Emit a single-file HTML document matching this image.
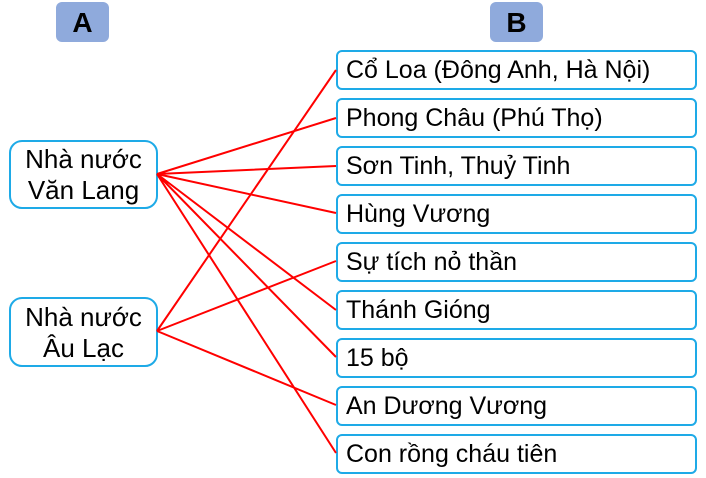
<!DOCTYPE html><html><head><style>
body{margin:0;width:706px;height:478px;background:#fff;position:relative;overflow:hidden;font-family:"Liberation Sans",sans-serif}
.h{position:absolute;top:2px;width:53px;height:40px;background:#8faadc;border-radius:6px;font-weight:bold;font-size:28px;text-align:center;line-height:42px;color:#000}
.l{position:absolute;left:9px;width:149px;border:2px solid #1eaae7;border-radius:13px;font-size:26px;text-align:center;line-height:31px;box-sizing:border-box;white-space:nowrap}
.r{position:absolute;left:336px;width:361px;height:40px;border:2px solid #1eaae7;border-radius:6px;box-sizing:border-box;font-size:25px;line-height:37px;padding-left:8px;white-space:nowrap}
svg{position:absolute;left:0;top:0}
</style></head><body>
<div class="h" style="left:56px">A</div>
<div class="h" style="left:490px">B</div>
<div class="l" style="top:140px;height:69px;padding-top:2px">Nhà nước<br>Văn Lang</div>
<div class="l" style="top:297px;height:70px;padding-top:3px">Nhà nước<br>Âu Lạc</div>
<div class="r" style="top:50px">Cổ Loa (Đông Anh, Hà Nội)</div>
<div class="r" style="top:98px">Phong Châu (Phú Thọ)</div>
<div class="r" style="top:146px">Sơn Tinh, Thuỷ Tinh</div>
<div class="r" style="top:194px">Hùng Vương</div>
<div class="r" style="top:242px">Sự tích nỏ thần</div>
<div class="r" style="top:290px">Thánh Gióng</div>
<div class="r" style="top:338px">15 bộ</div>
<div class="r" style="top:386px">An Dương Vương</div>
<div class="r" style="top:434px">Con rồng cháu tiên</div>
<svg width="706" height="478"><g stroke="#f00" stroke-width="2" fill="none">
<path d="M157 174L336 118M157 174L336 166M157 174L336 213M157 174L336 310M157 174L336 357M157 174L336 453"/>
<path d="M157 331L336 70M157 331L336 261M157 331L336 405"/>
</g></svg>
</body></html>
